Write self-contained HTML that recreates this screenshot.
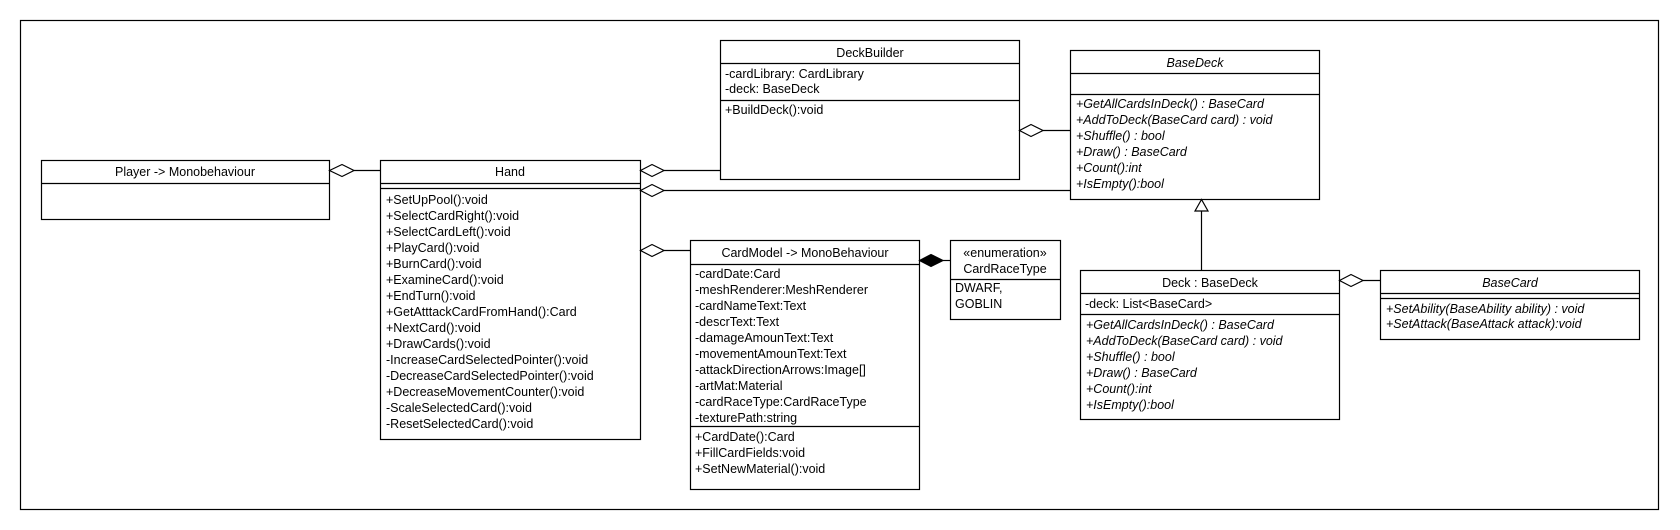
<!DOCTYPE html>
<html><head><meta charset="utf-8"><style>
html,body{margin:0;padding:0;background:#fff;}
svg{display:block;}
text{font-family:"Liberation Sans",sans-serif;font-size:12.5px;fill:#000;}
.i{font-style:italic;}
</style></head><body>
<svg width="1680" height="530" viewBox="0 0 1680 530" xmlns="http://www.w3.org/2000/svg">
<g fill="none" stroke="#000" stroke-width="1.2">
<rect x="20.5" y="20.5" width="1638" height="489"/>
<!-- Player -->
<rect x="41.5" y="160.5" width="288" height="59"/>
<line x1="41.5" y1="183.5" x2="329.5" y2="183.5"/>
<!-- Hand -->
<rect x="380.5" y="160.5" width="260" height="279"/>
<line x1="380.5" y1="183.5" x2="640.5" y2="183.5"/>
<line x1="380.5" y1="188.5" x2="640.5" y2="188.5"/>
<!-- DeckBuilder -->
<rect x="720.5" y="40.5" width="299" height="139"/>
<line x1="720.5" y1="63.5" x2="1019.5" y2="63.5"/>
<line x1="720.5" y1="100.5" x2="1019.5" y2="100.5"/>
<!-- BaseDeck -->
<rect x="1070.5" y="50.5" width="249" height="149"/>
<line x1="1070.5" y1="73.5" x2="1319.5" y2="73.5"/>
<line x1="1070.5" y1="94.5" x2="1319.5" y2="94.5"/>
<!-- CardModel -->
<rect x="690.5" y="240.5" width="229" height="249"/>
<line x1="690.5" y1="264.5" x2="919.5" y2="264.5"/>
<line x1="690.5" y1="426.5" x2="919.5" y2="426.5"/>
<!-- Enum -->
<rect x="950.5" y="240.5" width="110" height="79"/>
<line x1="950.5" y1="279.5" x2="1060.5" y2="279.5"/>
<!-- Deck -->
<rect x="1080.5" y="270.5" width="259" height="149"/>
<line x1="1080.5" y1="293.5" x2="1339.5" y2="293.5"/>
<line x1="1080.5" y1="314.5" x2="1339.5" y2="314.5"/>
<!-- BaseCard -->
<rect x="1380.5" y="270.5" width="259" height="69"/>
<line x1="1380.5" y1="293.5" x2="1639.5" y2="293.5"/>
<line x1="1380.5" y1="298.5" x2="1639.5" y2="298.5"/>
<!-- connectors -->
<line x1="354" y1="170.5" x2="380.5" y2="170.5"/>
<polygon points="329.5,170.5 342,164.5 354,170.5 342,176.5" fill="#fff"/>
<line x1="664" y1="170.5" x2="720.5" y2="170.5"/>
<polygon points="640.5,170.5 652,164.5 664,170.5 652,176.5" fill="#fff"/>
<line x1="664" y1="190.5" x2="1070.5" y2="190.5"/>
<polygon points="640.5,190.5 652,184.5 664,190.5 652,196.5" fill="#fff"/>
<line x1="664" y1="250.5" x2="690.5" y2="250.5"/>
<polygon points="640.5,250.5 652,244.5 664,250.5 652,256.5" fill="#fff"/>
<line x1="1043" y1="130.5" x2="1070.5" y2="130.5"/>
<polygon points="1019.5,130.5 1031,124.5 1043,130.5 1031,136.5" fill="#fff"/>
<line x1="943" y1="260.5" x2="950.5" y2="260.5"/>
<polygon points="919.5,260.5 931,254.5 943,260.5 931,266.5" fill="#000"/>
<line x1="1363" y1="280.5" x2="1380.5" y2="280.5"/>
<polygon points="1339.5,280.5 1351,274.5 1363,280.5 1351,286.5" fill="#fff"/>
<line x1="1201.5" y1="211" x2="1201.5" y2="270.5"/>
<polygon points="1201.5,199.5 1195,211 1208,211" fill="#fff"/>
</g>
<text x="185" y="176" text-anchor="middle">Player -&gt; Monobehaviour</text>
<text x="510" y="176" text-anchor="middle">Hand</text>
<g>
<text x="386" y="204">+SetUpPool():void</text>
<text x="386" y="220">+SelectCardRight():void</text>
<text x="386" y="236">+SelectCardLeft():void</text>
<text x="386" y="252">+PlayCard():void</text>
<text x="386" y="268">+BurnCard():void</text>
<text x="386" y="284">+ExamineCard():void</text>
<text x="386" y="300">+EndTurn():void</text>
<text x="386" y="316">+GetAtttackCardFromHand():Card</text>
<text x="386" y="332">+NextCard():void</text>
<text x="386" y="348">+DrawCards():void</text>
<text x="386" y="364">-IncreaseCardSelectedPointer():void</text>
<text x="386" y="380">-DecreaseCardSelectedPointer():void</text>
<text x="386" y="396">+DecreaseMovementCounter():void</text>
<text x="386" y="412">-ScaleSelectedCard():void</text>
<text x="386" y="428">-ResetSelectedCard():void</text>
</g>
<text x="870" y="57" text-anchor="middle">DeckBuilder</text>
<text x="725" y="78">-cardLibrary: CardLibrary</text>
<text x="725" y="93">-deck: BaseDeck</text>
<text x="725" y="114">+BuildDeck():void</text>
<text x="1195" y="67" text-anchor="middle" class="i">BaseDeck</text>
<g class="i">
<text x="1076" y="108">+GetAllCardsInDeck() : BaseCard</text>
<text x="1076" y="124">+AddToDeck(BaseCard card) : void</text>
<text x="1076" y="140">+Shuffle() : bool</text>
<text x="1076" y="156">+Draw() : BaseCard</text>
<text x="1076" y="172">+Count():int</text>
<text x="1076" y="188">+IsEmpty():bool</text>
</g>
<text x="805" y="257" text-anchor="middle">CardModel -&gt; MonoBehaviour</text>
<g>
<text x="695" y="278">-cardDate:Card</text>
<text x="695" y="294">-meshRenderer:MeshRenderer</text>
<text x="695" y="310">-cardNameText:Text</text>
<text x="695" y="326">-descrText:Text</text>
<text x="695" y="342">-damageAmounText:Text</text>
<text x="695" y="358">-movementAmounText:Text</text>
<text x="695" y="374">-attackDirectionArrows:Image[]</text>
<text x="695" y="390">-artMat:Material</text>
<text x="695" y="406">-cardRaceType:CardRaceType</text>
<text x="695" y="422">-texturePath:string</text>
<text x="695" y="441">+CardDate():Card</text>
<text x="695" y="457">+FillCardFields:void</text>
<text x="695" y="473">+SetNewMaterial():void</text>
</g>
<text x="1005" y="257" text-anchor="middle">«enumeration»</text>
<text x="1005" y="273" text-anchor="middle">CardRaceType</text>
<text x="955" y="292">DWARF,</text>
<text x="955" y="308">GOBLIN</text>
<text x="1210" y="287" text-anchor="middle">Deck : BaseDeck</text>
<text x="1085" y="308">-deck: List&lt;BaseCard&gt;</text>
<g class="i">
<text x="1086" y="329">+GetAllCardsInDeck() : BaseCard</text>
<text x="1086" y="345">+AddToDeck(BaseCard card) : void</text>
<text x="1086" y="361">+Shuffle() : bool</text>
<text x="1086" y="377">+Draw() : BaseCard</text>
<text x="1086" y="393">+Count():int</text>
<text x="1086" y="409">+IsEmpty():bool</text>
</g>
<text x="1510" y="287" text-anchor="middle" class="i">BaseCard</text>
<g class="i">
<text x="1386" y="313">+SetAbility(BaseAbility ability) : void</text>
<text x="1386" y="328">+SetAttack(BaseAttack attack):void</text>
</g>
</svg>
</body></html>
